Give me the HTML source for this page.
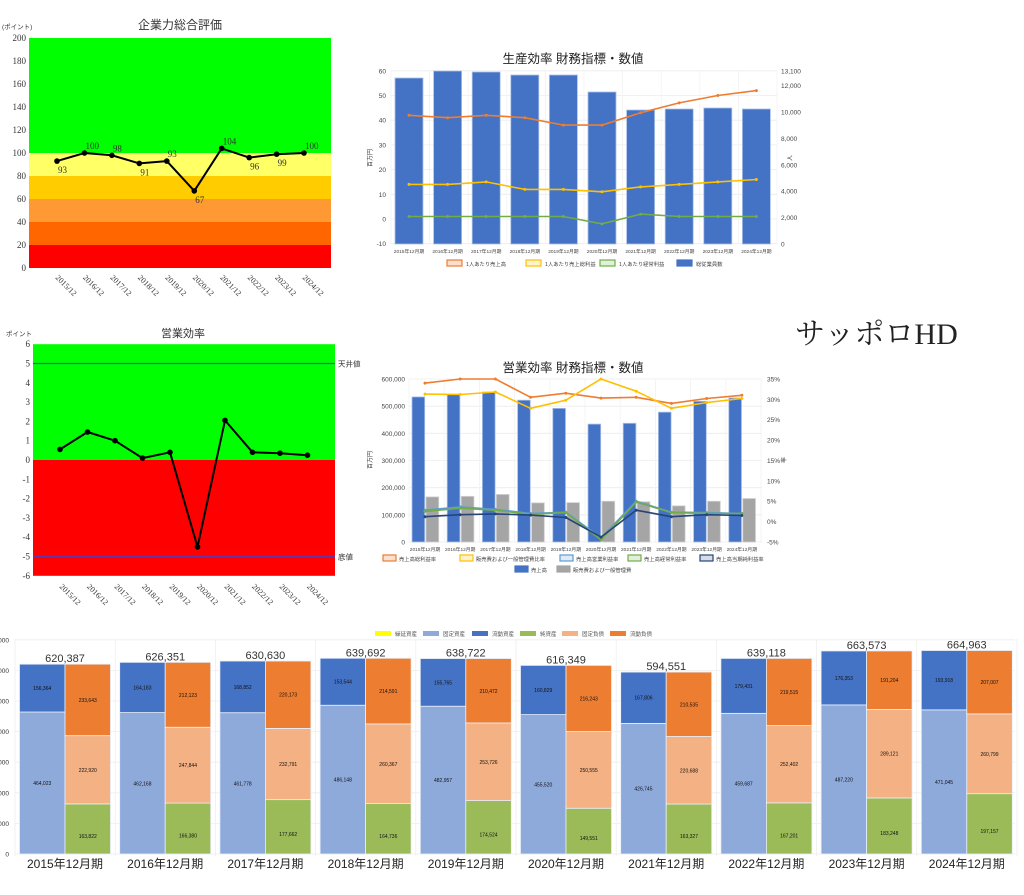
<!DOCTYPE html>
<html><head><meta charset="utf-8">
<style>
html,body{margin:0;padding:0;background:#fff;width:1024px;height:895px;overflow:hidden}
svg{display:block}
.s{font-family:"Liberation Sans","Noto Sans CJK JP",sans-serif}
.r{font-family:"Liberation Serif","Noto Serif CJK JP",serif}
</style></head><body>
<svg id="c" width="1024" height="895" xmlns="http://www.w3.org/2000/svg"></svg>
<script>
var o='';
function R(x,y,w,h,f,extra){o+='<rect x="'+x+'" y="'+y+'" width="'+w+'" height="'+h+'" fill="'+f+'" '+(extra||'')+'/>';}
function L(x1,y1,x2,y2,s,w){o+='<line x1="'+x1+'" y1="'+y1+'" x2="'+x2+'" y2="'+y2+'" stroke="'+s+'" stroke-width="'+(w||1)+'"/>';}
function T(x,y,t,sz,cls,anc,fill,extra){o+='<text x="'+x+'" y="'+y+'" font-size="'+sz+'" class="'+cls+'" text-anchor="'+(anc||'start')+'" fill="'+(fill||'#333')+'" '+(extra||'')+'>'+t+'</text>';}
function P(pts,s,w){o+='<polyline points="'+pts.map(function(p){return p[0].toFixed(1)+','+p[1].toFixed(1)}).join(' ')+'" fill="none" stroke="'+s+'" stroke-width="'+w+'" stroke-linejoin="round"/>';}
function C(x,y,r,f){o+='<circle cx="'+x.toFixed(1)+'" cy="'+y.toFixed(1)+'" r="'+r+'" fill="'+f+'"/>';}
var yrs=['2015','2016','2017','2018','2019','2020','2021','2022','2023','2024'];

/* Chart 1 */
(function(){
 var y=function(v){return 268-v*1.15};
 var bands=[[100,200,'#00ff00'],[80,100,'#ffff66'],[60,80,'#ffcc00'],[40,60,'#ff9933'],[20,40,'#ff6600'],[0,20,'#ff0000']];
 bands.forEach(function(b){R(29,y(b[1]),302,y(b[0])-y(b[1]),b[2]);});
 T(180,29,'企業力総合評価',12,'s','middle','#333');
 T(2,29,'(ポイント)',6.5,'s','start','#333');
 for(var v=0;v<=200;v+=20)T(26,y(v)+3,v,9,'r','end','#333');
 var d=[93,100,98,91,93,67,104,96,99,100],pos=[1,-1,-1,1,-1,1,-1,1,1,-1];
 var pts=d.map(function(v,i){return [57+27.45*i,y(v)]});
 P(pts,'#000',2);pts.forEach(function(p,i){C(p[0],p[1],2.8,'#000');T(p[0]+1,p[1]+(pos[i]>0?12:-4),d[i],9,'r','start','#333');});
 pts.forEach(function(p,i){T(p[0]-2,278,yrs[i]+'/12',8,'r','start','#333','transform="rotate(45 '+(p[0]-2)+' 278)"');});
})();

/* Chart 4 */
(function(){
 var y=function(v){return 460-v*19.3};
 R(33,y(6),302,y(0)-y(6),'#00ff00');R(33,y(0),302,y(-6)-y(0),'#ff0000');
 L(33,y(5),335,y(5),'#3355cc',1.2);L(33,y(-5),335,y(-5),'#6633aa',1.2);
 T(338,y(5)+3,'天井値',7.5,'s','start','#333');T(338,y(-5)+3,'底値',7.5,'s','start','#333');
 T(183,337,'営業効率',11,'s','middle','#333');T(6,336,'ポイント',6.5,'s','start','#333');
 for(var v=-6;v<=6;v++)T(30,y(v)+3,v,9,'r','end','#333');
 var d=[0.55,1.45,1.0,0.1,0.4,-4.5,2.05,0.4,0.35,0.25];
 var pts=d.map(function(v,i){return [60+27.5*i,y(v)]});
 P(pts,'#000',2);pts.forEach(function(p){C(p[0],p[1],2.8,'#000');});
 pts.forEach(function(p,i){T(p[0]-1,587,yrs[i]+'/12',8,'r','start','#333','transform="rotate(45 '+(p[0]-1)+' 587)"');});
})();

/* Chart 2 */
(function(){
 var x0=391,cw=38.6,y=function(v){return 219-v*2.47},yr=function(v){return 244-v*173/13100};
 for(var v=-10;v<=60;v+=10){L(x0,y(v),777,y(v),'#ececec',0.8);T(386,y(v)+2.5,v,6.5,'s','end','#444');}
 for(var i=0;i<=10;i++)L(x0+cw*i,71,x0+cw*i,244,'#f2f2f2',0.8);
 [0,2000,4000,6000,8000,10000,12000,13100].forEach(function(v){T(781,yr(v)+2.5,v.toLocaleString('en-US'),6.5,'s','start','#444');});
 var tops=[78,71,72,75,75,92,110,109,108,109];
 tops.forEach(function(t,i){R(x0+4+cw*i,t,28,244-t,'#4472c4','stroke="#a9c1ea" stroke-width="0.8"');});
 var series=[[[42,41,42,41,38,38,43,47,50,52],'#ed7d31'],[[14,14,15,12,12,11,13,14,15,16],'#ffc000'],[[1,1,1,1,1,-2,2,1,1,1],'#70ad47']];
 series.forEach(function(s){var pts=s[0].map(function(v,i){return [x0+18+cw*i,y(v)]});P(pts,s[1],1.6);pts.forEach(function(p){C(p[0],p[1],1.5,s[1]);});});
 yrs.forEach(function(yy,i){T(x0+18+cw*i,253,yy+'年12月期',4.8,'s','middle','#444');});
 T(573,63,'生産効率 財務指標・数値',12.5,'s','middle','#222');
 T(372,158,'百万円',6,'s','middle','#444','transform="rotate(-90 372 158)"');
 T(792,158,'人',6,'s','middle','#444','transform="rotate(-90 792 158)"');
 var lg=[[447,'1人あたり売上高','#ed7d31','#fbe0d0'],[526,'1人あたり売上総利益','#ffc000','#fff2cc'],[600,'1人あたり経常利益','#70ad47','#e2efda'],[677,'総従業員数','#4472c4','#4472c4']];
 lg.forEach(function(g){R(g[0],260,15,6,g[3],'stroke="'+g[2]+'" stroke-width="1.2"');T(g[0]+19,266,g[1],5.3,'s','start','#444');});
})();

/* Chart 3 */
(function(){
 var x0=409,cw=35.2,y=function(v){return 542-v*163/600000},yr=function(p){return 521.6-p*4.075};
 for(var v=0;v<=600000;v+=100000){L(x0,y(v),762,y(v),'#ececec',0.8);T(405,y(v)+2.5,v.toLocaleString('en-US'),6.5,'s','end','#444');}
 for(var i=0;i<=10;i++)L(x0+cw*i,379,x0+cw*i,542,'#f2f2f2',0.8);
 for(var p=-5;p<=35;p+=5)T(767,yr(p)+2.5,p+'%',6.5,'s','start','#444');
 var b=[534000,544000,552000,522000,492000,434000,437000,478000,518000,530000],g=[166000,168000,175000,144000,145000,150000,148000,133000,150000,160000];
 b.forEach(function(v,i){R(x0+3+cw*i,y(v),12.7,542-y(v),'#4472c4','stroke="#a9c1ea" stroke-width="0.8"');R(x0+17+cw*i,y(g[i]),12.7,542-y(g[i]),'#a5a5a5','stroke="#d0d0d0" stroke-width="0.8"');});
 var series=[[[34,35,35,30.5,31.5,30.3,30.5,29,30.2,31],'#ed7d31'],[[31.3,31.2,31.8,27.8,29.8,35,32,27.8,29.2,30.2],'#ffc000'],[[2.8,3.6,3.0,2.0,2.3,-4.0,5.0,2.3,2.2,2.0],'#5b9bd5'],[[2.5,3.3,2.8,1.8,2.2,-4.5,4.8,2.2,2.0,2.0],'#70ad47'],[[1.2,1.7,1.9,1.6,1.0,-3.8,2.8,1.2,1.7,1.5],'#264478']];
 series.forEach(function(s){var pts=s[0].map(function(v,i){return [x0+16+cw*i,yr(v)]});P(pts,s[1],1.6);pts.forEach(function(p){C(p[0],p[1],1.5,s[1]);});});
 yrs.forEach(function(yy,i){T(x0+16+cw*i,551,yy+'年12月期',4.8,'s','middle','#444');});
 T(573,372,'営業効率 財務指標・数値',12.5,'s','middle','#222');
 T(372,460,'百万円',6,'s','middle','#444','transform="rotate(-90 372 460)"');
 T(786,460,'率',6,'s','middle','#444','transform="rotate(-90 786 460)"');
 var lg=[[383,560,'売上高総利益率','#ed7d31','#fbe0d0'],[460,560,'販売費および一般管理費比率','#ffc000','#fff2cc'],[560,560,'売上高営業利益率','#5b9bd5','#deebf7'],[628,560,'売上高経常利益率','#70ad47','#e2efda'],[700,560,'売上高当期純利益率','#264478','#d6dce5'],[515,571,'売上高','#4472c4','#4472c4'],[557,571,'販売費および一般管理費','#a5a5a5','#a5a5a5']];
 lg.forEach(function(g){R(g[0],g[1]-5,13,6,g[4],'stroke="'+g[3]+'" stroke-width="1.2"');T(g[0]+16,g[1]+1,g[2],5.3,'s','start','#444');});
})();

/* Sapporo HD */
T(795,344,'サッポロHD',30,'r','start','#222');

/* Bottom chart */
(function(){
 var y=function(v){return 854-v*30.6/100000};
 for(var v=0;v<=700000;v+=100000){L(15,y(v),1015,y(v),'#eeeeee',0.8);T(9,y(v)+2.5,v==0?'0':'000',6.5,'s','end','#333');}
 for(var i=0;i<=10;i++)L(15+100.2*i,639,15+100.2*i,856,'#eeeeee',0.8);
 var D=[[464023,156364,163822,222920,233643,'620,387'],[462168,164183,166380,247844,212123,'626,351'],[461778,168852,177662,232791,220173,'630,630'],[486148,153544,164736,260367,214591,'639,692'],[482957,155765,174524,253726,210472,'638,722'],[455520,160829,149551,250555,216243,'616,349'],[426745,167806,163327,220688,210535,'594,551'],[459687,179431,167201,252402,219515,'639,118'],[487220,176353,183248,289121,191204,'663,573'],[471045,193918,197157,260799,207007,'664,963']];
 var fmt=function(v){return v.toLocaleString('en-US')};
 D.forEach(function(d,i){
  var xl=19.5+100.2*i,xr=xl+45.5,w=45.5,bw='stroke="#e8eef8" stroke-width="0.8"';
  var a=y(d[0]);R(xl,a,w,854-a,'#8eaadb',bw);T(xl+w/2,(a+854)/2+2,fmt(d[0]),5,'s','middle','#111');
  var b=y(d[0]+d[1]);R(xl,b,w,a-b,'#4472c4',bw);T(xl+w/2,(a+b)/2+2,fmt(d[1]),5,'s','middle','#111');
  var c=y(d[2]);R(xr,c,w,854-c,'#9bbb59',bw);T(xr+w/2,(c+854)/2+9,fmt(d[2]),5,'s','middle','#111');
  var e=y(d[2]+d[3]);R(xr,e,w,c-e,'#f4b183',bw);T(xr+w/2,(c+e)/2+2,fmt(d[3]),5,'s','middle','#111');
  var f=y(d[2]+d[3]+d[4]);R(xr,f,w,e-f,'#ed7d31',bw);T(xr+w/2,(e+f)/2+2,fmt(d[4]),5,'s','middle','#111');
  T(xl+w,Math.min(b,f)-2,d[5],11,'s','middle','#333');
  T(xl+w,868,yrs[i]+'年12月期',12,'s','middle','#222');
 });
 var lg=[[375,'繰延資産','#ffff00'],[423,'固定資産','#8eaadb'],[472,'流動資産','#4472c4'],[520,'純資産','#9bbb59'],[562,'固定負債','#f4b183'],[610,'流動負債','#ed7d31']];
 lg.forEach(function(g){R(g[0],631,16,5,g[2]);T(g[0]+20,636,g[1],5.5,'s','start','#555');});
})();
document.getElementById('c').innerHTML=o;
</script>
</body></html>
